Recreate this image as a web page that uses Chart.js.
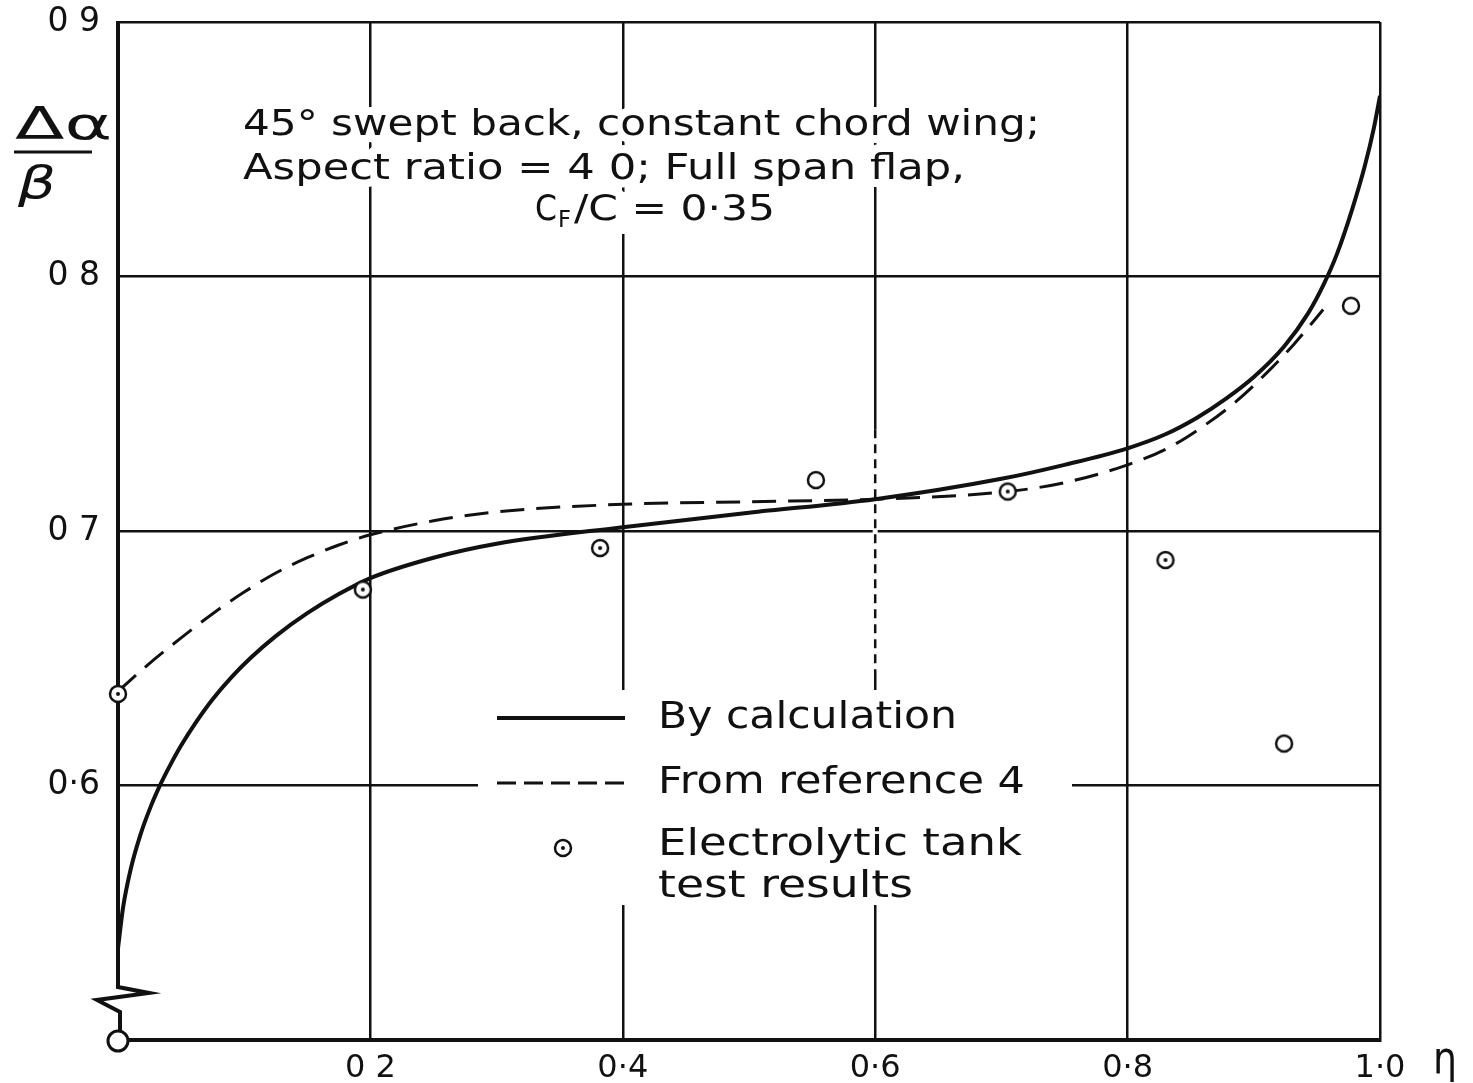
<!DOCTYPE html>
<html>
<head>
<meta charset="utf-8">
<script src="https://cdn.jsdelivr.net/npm/chart.js@4.4.1/dist/chart.umd.min.js"></script>
<style>
  html, body { margin: 0; padding: 0; background: #fff; }
</style>
</head>
<body>
<canvas id="chart" width="1473" height="1083"></canvas>
<script>
// "By calculation" (solid)
const calcX = [0, 0.004, 0.01, 0.018, 0.026, 0.034, 0.042, 0.05, 0.062, 0.075, 0.09, 0.105, 0.125, 0.15, 0.175, 0.2, 0.25, 0.3, 0.4, 0.5, 0.6, 0.7, 0.75, 0.8, 0.83, 0.855, 0.878, 0.9, 0.924, 0.943, 0.955, 0.966, 0.978, 0.988, 0.995, 1.0];
const calcY = [0.536, 0.552, 0.567, 0.581, 0.5918, 0.6008, 0.6086, 0.6157, 0.625, 0.6339, 0.6426, 0.6501, 0.6587, 0.6677, 0.6752, 0.6815, 0.6895, 0.695, 0.7015, 0.7072, 0.7125, 0.7205, 0.726, 0.7325, 0.738, 0.7445, 0.752, 0.7605, 0.7725, 0.7855, 0.7965, 0.809, 0.8265, 0.8435, 0.858, 0.871];

// "From reference 4" (dashed)
const refX = [0, 0.025, 0.05, 0.075, 0.1, 0.125, 0.15, 0.175, 0.2, 0.25, 0.3, 0.4, 0.5, 0.6, 0.705, 0.75, 0.8, 0.832, 0.858, 0.885, 0.911, 0.932, 0.955];
const refY = [0.637, 0.648, 0.658, 0.6675, 0.676, 0.6835, 0.6895, 0.6945, 0.6985, 0.704, 0.7075, 0.7105, 0.7115, 0.7125, 0.7155, 0.719, 0.726, 0.7326, 0.7405, 0.7505, 0.7625, 0.7735, 0.787];

// Electrolytic tank test results
const testX = [0, 0.194, 0.382, 0.553, 0.705, 0.830, 0.924, 0.977];
const testY = [0.636, 0.677, 0.6933, 0.720, 0.7155, 0.6886, 0.6165, 0.7885];
const testDotted = [true, true, true, false, true, true, false, false];

const xTickValues = [0, 0.2, 0.4, 0.6, 0.8, 1.0];
const xTickText = ['', '0 2', '0·4', '0·6', '0·8', '1·0'];
const yTickValues = [0.5, 0.6, 0.7, 0.8, 0.9];
const yTickText = ['', '0·6', '0 7', '0 8', '0 9'];

const INK = '#111';
const FONT = '"DejaVu Sans"';

function tickLabel(values, texts, v) {
  const i = values.findIndex(t => Math.abs(t - v) < 1e-6);
  return i < 0 ? '' : texts[i];
}

function makeMarker(dotted) {
  const c = document.createElement('canvas');
  c.width = 24; c.height = 24;
  const g = c.getContext('2d');
  g.beginPath();
  g.arc(12, 12, 8, 0, Math.PI * 2);
  g.fillStyle = '#fff';
  g.fill();
  g.lineWidth = 2.5;
  g.strokeStyle = INK;
  g.stroke();
  if (dotted) {
    g.beginPath();
    g.arc(12, 12, 2, 0, Math.PI * 2);
    g.fillStyle = INK;
    g.fill();
  }
  return c;
}
const dotMarker = makeMarker(true);
const openMarker = makeMarker(false);

function fitText(ctx, text, x, y, width, size, halo, style) {
  ctx.save();
  ctx.font = (style || '') + ' ' + size + 'px ' + FONT;
  ctx.textBaseline = 'middle';
  ctx.textAlign = 'left';
  const w = ctx.measureText(text).width;
  ctx.translate(x, y);
  ctx.scale(width / w, 1);
  if (halo) {
    ctx.strokeStyle = '#fff';
    ctx.lineWidth = 16;
    ctx.lineJoin = 'round';
    ctx.strokeText(text, 0, 0);
  } else {
    ctx.fillStyle = INK;
    ctx.fillText(text, 0, 0);
  }
  ctx.restore();
}

function noteText(ctx, halo) {
  fitText(ctx, '45° swept back, constant chord wing;', 243, 126, 797, 36, halo);
  fitText(ctx, 'Aspect ratio = 4 0; Full span flap,', 243, 170, 722, 36, halo);
  fitText(ctx, 'C', 535, 211, 22, 36, halo);
  fitText(ctx, 'F', 558, 221, 13, 23, halo);
  fitText(ctx, '/C = 0·35', 574, 211, 201, 36, halo);
}

const decorations = {
  id: 'decorations',
  beforeDatasetsDraw(chart) {
    const ctx = chart.ctx;
    const xs = chart.scales.x, ys = chart.scales.y;
    const x0 = xs.getPixelForValue(0);

    // left axis with break symbol and origin circle
    ctx.save();
    ctx.strokeStyle = INK;
    ctx.lineWidth = 4;
    ctx.lineJoin = 'miter';
    ctx.beginPath();
    ctx.moveTo(x0, ys.getPixelForValue(0.9) - 1);
    ctx.lineTo(x0, 987);
    ctx.lineTo(149, 993);
    ctx.lineTo(97, 1000);
    ctx.lineTo(120, 1012);
    ctx.lineTo(120, 1031);
    ctx.stroke();
    ctx.beginPath();
    ctx.arc(x0, 1041, 10, 0, Math.PI * 2);
    ctx.fillStyle = '#fff';
    ctx.fill();
    ctx.lineWidth = 3;
    ctx.stroke();

    // broken part of the 0.6 grid line
    const xm = xs.getPixelForValue(0.6);
    ctx.strokeStyle = '#fff';
    ctx.lineWidth = 5;
    ctx.beginPath();
    ctx.moveTo(xm, ys.getPixelForValue(0.74));
    ctx.lineTo(xm, ys.getPixelForValue(0.645));
    ctx.stroke();
    ctx.strokeStyle = INK;
    ctx.lineWidth = 2.5;
    ctx.setLineDash([9, 6]);
    ctx.stroke();
    ctx.setLineDash([]);

    // white boxes behind texts
    ctx.fillStyle = '#fff';
    ctx.fillRect(478, 690, 594, 215);
    ctx.fillRect(528, 192, 256, 42);
    noteText(ctx, true);
    noteText(ctx, false);

    // legend
    ctx.strokeStyle = INK;
    ctx.lineWidth = 4;
    ctx.beginPath();
    ctx.moveTo(497, 718);
    ctx.lineTo(625, 718);
    ctx.stroke();
    ctx.lineWidth = 3;
    ctx.setLineDash([19, 8]);
    ctx.beginPath();
    ctx.moveTo(497, 783);
    ctx.lineTo(625, 783);
    ctx.stroke();
    ctx.setLineDash([]);
    ctx.drawImage(dotMarker, 563 - 12, 848 - 12);
    fitText(ctx, 'By calculation', 658, 718, 299, 38, false);
    fitText(ctx, 'From reference 4', 658, 783, 367, 38, false);
    fitText(ctx, 'Electrolytic tank', 658, 845, 364, 38, false);
    fitText(ctx, 'test results', 658, 887, 255, 38, false);

    // axis titles
    fitText(ctx, 'Δα', 15, 128, 97, 44, false);
    ctx.strokeStyle = INK;
    ctx.lineWidth = 3;
    ctx.beginPath();
    ctx.moveTo(14, 152);
    ctx.lineTo(92, 152);
    ctx.stroke();
    fitText(ctx, 'β', 18, 187, 38, 44, false, 'italic');
    fitText(ctx, 'η', 1433, 1062, 24, 44, false);
    ctx.restore();
  }
};

new Chart(document.getElementById('chart'), {
  type: 'scatter',
  data: {
    datasets: [
      {
        label: 'By calculation',
        data: calcX.map((x, i) => ({ x, y: calcY[i] })),
        showLine: true,
        borderColor: INK,
        borderWidth: 4,
        pointRadius: 0,
        cubicInterpolationMode: 'monotone',
        order: 2
      },
      {
        label: 'From reference 4',
        data: refX.map((x, i) => ({ x, y: refY[i] })),
        showLine: true,
        borderColor: INK,
        borderWidth: 3,
        borderDash: [24, 12],
        pointRadius: 0,
        cubicInterpolationMode: 'monotone',
        order: 1
      },
      {
        label: 'Electrolytic tank test results',
        data: testX.map((x, i) => ({ x, y: testY[i] })),
        showLine: false,
        pointStyle: testDotted.map(d => d ? dotMarker : openMarker),
        pointRadius: 9,
        clip: false,
        order: 0
      }
    ]
  },
  options: {
    responsive: false,
    animation: false,
    devicePixelRatio: 1,
    layout: { padding: { top: 22, right: 93, bottom: 0, left: 0 } },
    plugins: { legend: { display: false }, tooltip: { enabled: false } },
    scales: {
      x: {
        type: 'linear',
        min: 0,
        max: 1,
        afterBuildTicks: s => { s.ticks = xTickValues.map(v => ({ value: v })); },
        afterFit: s => { s.height = 43; },
        ticks: {
          callback: v => tickLabel(xTickValues, xTickText, v),
          font: { family: 'DejaVu Sans', size: 32 },
          color: INK,
          padding: 9,
          maxRotation: 0,
          autoSkip: false
        },
        grid: {
          color: c => (c.tick && c.tick.value === 0) ? 'rgba(0,0,0,0)' : INK,
          lineWidth: 2.5,
          drawTicks: false
        },
        border: { display: true, color: INK, width: 4 }
      },
      y: {
        type: 'linear',
        min: 0.5,
        max: 0.9,
        afterBuildTicks: s => { s.ticks = yTickValues.map(v => ({ value: v })); },
        afterFit: s => { s.width = 118; },
        ticks: {
          callback: v => tickLabel(yTickValues, yTickText, v),
          font: { family: 'DejaVu Sans', size: 33, lineHeight: 0.2 },
          color: INK,
          padding: 18,
          autoSkip: false
        },
        grid: {
          color: c => (c.tick && Math.abs(c.tick.value - 0.5) < 1e-6) ? 'rgba(0,0,0,0)' : INK,
          lineWidth: 2.5,
          drawTicks: false
        },
        border: { display: false }
      }
    }
  },
  plugins: [decorations]
});
</script>
</body>
</html>
